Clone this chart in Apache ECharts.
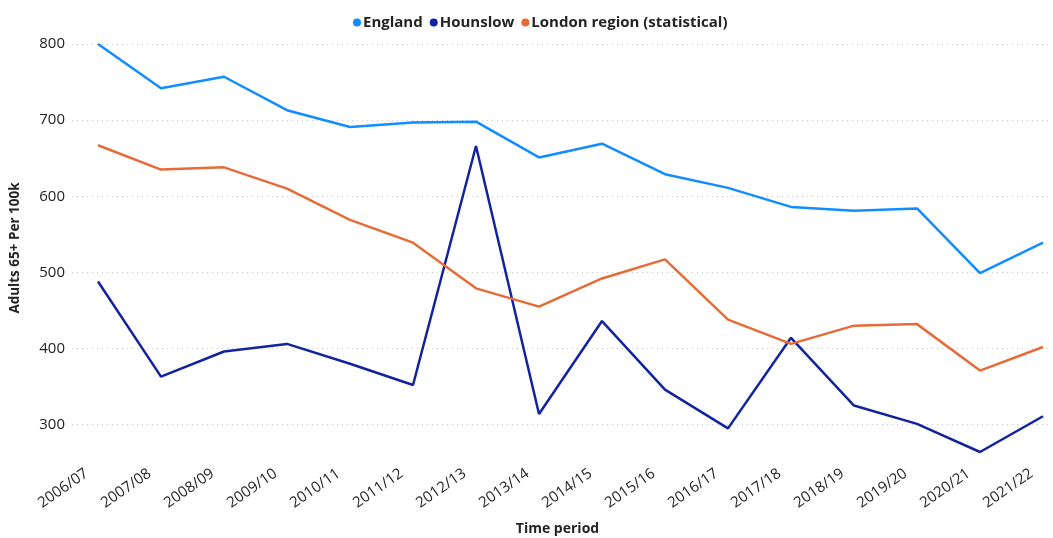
<!DOCTYPE html>
<html>
<head>
<meta charset="utf-8">
<script src="https://cdn.jsdelivr.net/npm/echarts@6/dist/echarts.min.js"></script>
<style>
  html, body { margin: 0; padding: 0; background: #fff; }
  #chart { width: 1053px; height: 538px; }
</style>
</head>
<body>
<div id="chart"></div>
<script>
// data
const periods = ['2006/07', '2007/08', '2008/09', '2009/10', '2010/11', '2011/12', '2012/13', '2013/14',
  '2014/15', '2015/16', '2016/17', '2017/18', '2018/19', '2019/20', '2020/21', '2021/22']
const england = [800, 742, 757, 713, 691, 697, 698, 651, 669, 629, 611, 586, 581, 584, 499, 539]
const hounslow = [488, 363, 396, 406, 380, 352, 666, 314, 436, 346, 295, 414, 325, 301, 264, 311]
const london = [667, 635, 638, 610, 569, 539, 479, 455, 492, 517, 438, 406, 430, 432, 371, 402]
const yTicks = [300, 400, 500, 600, 700, 800]

const font = '"Open Sans", "DejaVu Sans", sans-serif'
const textColor = '#252423'
const yMin = 264
const yMax = 800

const chart = echarts.init(document.getElementById('chart'))

// grid 0 only holds the y axis (labels + dotted gridlines, wider than the plot)
// grid 1 holds the lines, inset so the first/last period sit inside the gridlines
chart.setOption({
  animation: false,
  textStyle: { fontFamily: font },
  legend: {
    top: 10,
    left: 348,
    icon: 'circle',
    itemWidth: 8,
    itemHeight: 8,
    itemGap: 7,
    textStyle: { fontSize: 15, fontWeight: 'bold', color: textColor, padding: [0, 0, 0, -3] },
    data: ['England', 'Hounslow', 'London region (statistical)']
  },
  grid: [
    { left: 72, right: 3, top: 44, bottom: 86, outerBoundsMode: 'none' },
    { left: 98, right: 10, top: 44, bottom: 86, outerBoundsMode: 'none' }
  ],
  xAxis: [
    { gridIndex: 0, type: 'value', show: false, min: 0, max: 1 },
    {
      gridIndex: 1,
      type: 'category',
      data: periods,
      boundaryGap: false,
      name: 'Time period',
      nameLocation: 'middle',
      nameGap: 70,
      nameTextStyle: { fontSize: 14, fontWeight: 'bold', color: textColor, padding: [0, 0, 0, -26] },
      axisLine: { show: false },
      axisTick: { show: false },
      axisLabel: { rotate: 35, fontSize: 15, color: textColor, margin: 12, interval: 0, padding: [0, 14, 0, 0] }
    }
  ],
  yAxis: [
    {
      gridIndex: 0,
      type: 'value',
      min: yMin,
      max: yMax,
      splitNumber: 5,
      name: 'Adults 65+ Per 100k',
      nameLocation: 'middle',
      nameGap: 50,
      nameTextStyle: { fontSize: 13.5, fontWeight: 'bold', color: textColor },
      axisLine: { show: false },
      axisTick: { show: false },
      axisLabel: {
        fontSize: 15,
        color: textColor,
        margin: 7,
        showMinLabel: false,
        formatter: v => (yTicks.indexOf(v) >= 0 ? String(v) : '')
      },
      splitLine: {
        showMinLine: false,
        lineStyle: { type: [1, 4], color: '#c8c8c8', width: 1 }
      }
    },
    { gridIndex: 1, type: 'value', min: yMin, max: yMax, show: false, splitLine: { show: false } }
  ],
  series: [
    { name: 'England', type: 'line', xAxisIndex: 1, yAxisIndex: 1, data: england, color: '#118DFF', symbol: 'none', lineStyle: { width: 2.5 } },
    { name: 'Hounslow', type: 'line', xAxisIndex: 1, yAxisIndex: 1, data: hounslow, color: '#12239E', symbol: 'none', lineStyle: { width: 2.5 } },
    { name: 'London region (statistical)', type: 'line', xAxisIndex: 1, yAxisIndex: 1, data: london, color: '#E66C37', symbol: 'none', lineStyle: { width: 2.5 } }
  ]
})
</script>
</body>
</html>
